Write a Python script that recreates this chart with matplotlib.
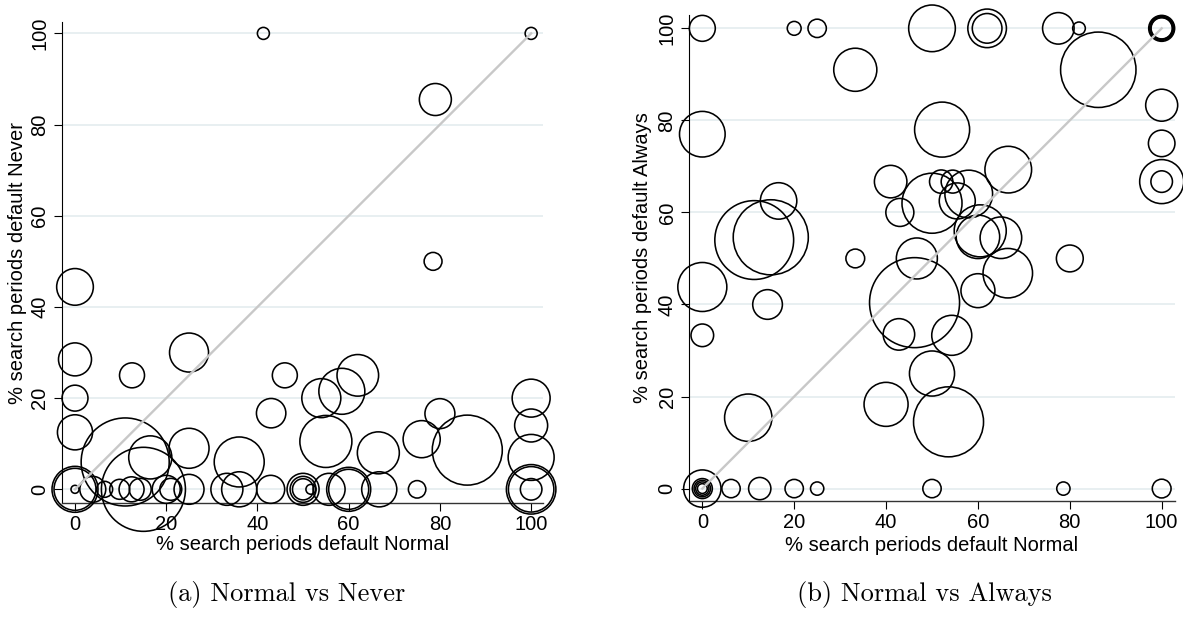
import numpy as np
import matplotlib
matplotlib.use('Agg')
import matplotlib.pyplot as plt

plt.rcParams['font.family'] = ['Liberation Sans', 'DejaVu Sans']

# Panel (a): Normal vs Never  (x, y, weight)
never_x = [41.3, 100, 79, 78.5, 0, 0, 25, 12.5, 46, 62, 58.5, 54, 0, 100, 43, 80, 100, 0, 76, 55,
           86, 25, 66.5, 100, 16.5, 11, 36,
           0, 0, 0, 3.9, 6.5, 9.8, 12.4, 14.3, 15, 20, 21, 25, 33.3, 36, 42.9, 50, 50, 50, 51.7,
           55.7, 60, 60, 66.7, 75, 100, 100, 100]
never_y = [100, 100, 85.5, 50, 44.4, 28.5, 30, 25, 25, 25, 21.5, 20, 20, 20, 16.7, 16.6, 14, 12.5, 11, 10.5,
           8.6, 9, 8, 7, 7, 6, 6,
           0, 0, 0, 0, 0, 0, 0, 0, 0, 0, 0, 0, 0, 0, 0, 0, 0, 0, 0,
           0, 0, 0, 0, 0, 0, 0, 0]
never_w = [9, 9, 64, 20, 84, 68, 95, 39, 39, 108, 132, 95, 42, 90, 54, 56, 68, 77, 86, 169,
           306, 100, 110, 132, 116, 484, 156,
           132, 110, 4, 42, 16, 25, 39, 30, 441, 49, 30, 56, 64, 77, 49, 64, 42, 28, 6,
           64, 121, 100, 77, 19, 153, 129, 29]

# Panel (b): Normal vs Always  (x, y, weight)
always_x = [0, 20, 25, 50, 62, 62, 77.5, 82, 100, 100, 100, 100,
            33.3, 86.2, 100, 100, 100, 100, 0, 52.2, 66.6, 41, 50, 52, 54.5, 58, 55.5, 43,
            60.5, 60, 65, 66.5, 46.7, 33.3, 80, 11.3, 14.9, 16.6, 0, 60, 14.2, 0, 46.2, 42.8,
            54.3, 50, 40, 53.6, 10,
            0, 0, 0, 0, 0, 6.25, 12.5, 20, 25, 50, 78.6, 100]
always_y = [100, 100, 100, 100, 100, 100, 100, 100, 100, 100, 100, 100,
            91, 91, 83.3, 75, 66.7, 66.7, 77, 78, 69.3, 66.7, 62, 66.7, 66.7, 64, 62.5, 60,
            56, 54.7, 54.5, 46.8, 50, 50, 50, 54, 54.6, 62.5, 43.8, 43, 40, 33.3, 40.4, 33.5,
            33.3, 25, 18.3, 14.5, 15.4,
            0, 0, 0, 0, 0, 0, 0, 0, 0, 0, 0, 0]
always_w = [42, 12, 21, 136, 93, 55, 62, 10, 42, 36, 30, 28,
            116, 355, 64, 44, 121, 29, 130, 189, 136, 66, 225, 34, 33, 142, 81, 49,
            169, 118, 108, 153, 105, 22, 45, 388, 352, 83, 150, 72, 55, 32, 506, 62,
            100, 127, 121, 306, 140,
            87, 25, 17, 11, 6, 21, 31, 21, 11, 21, 11, 22]

ticks = [0, 20, 40, 60, 80, 100]
diag = [0, 100]

fig = plt.figure(figsize=(11.83, 6.19), dpi=100)
W, H = 1183, 619


def panel(box, xs, ys, ws, ylabel, xlim, ylim, ylab_x, xlab_y):
    x0, x1, top, bottom = box
    ax = fig.add_axes([x0 / W, 1 - bottom / H, (x1 - x0) / W, (bottom - top) / H])
    ax.set_xlim(*xlim)
    ax.set_ylim(*ylim)
    ax.yaxis.grid(True, color='#e6eef0', lw=1.3)
    ax.set_axisbelow(True)
    s = 8.3 * np.array(ws, dtype=float)
    ax.scatter(xs, ys, s=s, facecolors='none', edgecolors='black', linewidths=1.15,
               clip_on=False, zorder=3)
    ax.plot(diag, diag, color='#c8c8c8', lw=1.7, zorder=4)
    ax.set_xticks(ticks)
    ax.set_yticks(ticks)
    for sp in ['top', 'right']:
        ax.spines[sp].set_visible(False)
    ax.spines['left'].set_color('black')
    ax.spines['left'].set_linewidth(0.8)
    ax.spines['bottom'].set_color('#333333')
    ax.spines['bottom'].set_linewidth(1.0)
    ax.tick_params(direction='out', length=6, width=0.8, labelsize=14.5, pad=3)
    for lab in ax.get_yticklabels():
        lab.set_rotation(90)
        lab.set_va('center')
    ax.set_xlabel('% search periods default Normal', fontsize=14.5)
    ax.set_ylabel(ylabel, fontsize=14.5)
    ax.xaxis.set_label_coords(0.5, xlab_y)
    ax.xaxis.label.set_va('center')
    ax.yaxis.set_label_coords(ylab_x, 0.5)
    ax.yaxis.label.set_va('center')
    return ax


panel((62, 543, 22, 503), never_x, never_y, never_w,
      '% search periods default Never', (-2.85, 102.6), (-3.0, 102.5), -0.0915, -0.087)
panel((689, 1175, 15, 501), always_x, always_y, always_w,
      '% search periods default Always', (-2.9, 102.9), (-2.7, 102.9), -0.0947, -0.091)

fig.text(287 / W, 1 - 595 / H, '(a) Normal vs Never', family='cmr10', fontsize=19,
         ha='center', va='center')
fig.text(924 / W, 1 - 595 / H, '(b) Normal vs Always', family='cmr10', fontsize=19,
         ha='center', va='center')

fig.savefig('out.png', dpi=100)
